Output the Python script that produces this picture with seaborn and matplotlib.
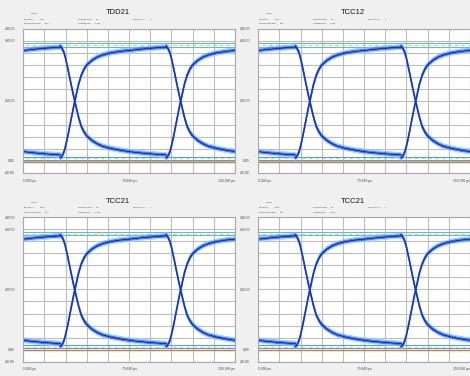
import matplotlib
matplotlib.use("Agg")
import numpy as np
import pandas as pd
import matplotlib.pyplot as plt
import seaborn as sns

# eye diagrams (4 S-parameter channels)

titles = ["TDD21", "TCC12", "TCC21", "TCC21"]

ui_ps = 79.64          # one unit interval
t0_ps = 27.6           # start of the first edge in the window
span_ps = 159.28

# time after edge start (ps) and the mean rising / falling trace (mV)
edge_t = [0, 1, 2, 3, 4, 6, 8, 10, 12, 14, 16, 18, 20, 24, 28, 32, 38, 45, 52, 60, 70, 80]
rise_v = [10, 13, 20, 30, 45, 85, 130, 175, 215, 255, 284, 304, 318, 334, 345, 352, 359, 364, 367, 371, 375, 378]
fall_v = [382, 378, 370, 360, 345, 305, 262, 220, 182, 145, 115, 97, 84, 68, 57, 49, 42, 36, 31, 27, 23, 20]
spread_mv = [-8, 8, -4, 4, 0]   # trace to trace spread round the mean

high_levels = [391, 380]
low_levels = [14, 4]
high_dash = 385
low_dash = 10
base_level = -2

x_ticks = [0, 79.64, 159.28]
x_labels = ["0.000 ps", "79.640 ps", "159.280 ps"]
y_ticks = [-40, 0, 200, 400, 440]
y_labels = ["-40.00", "0.00", "200.00", "400.00", "440.00"]

# instrument header: (key, value, key x, value x) in panel pixels
header_rows = [
    [("Bit Pattern:", "PRBS", 24, 40), ("Data Rate (Gb/s):", "12.5", 78, 96),
     ("Rise Time (ps):", "0", 133, 150)],
    [("Pattern Length (bits):", "2^9-1", 24, 45), ("Amplitude (mV):", "0, 200", 78, 95)],
]

spread_color = {-8: "#8fd6ee", 8: "#6cc8e8", -4: "#3f86e4", 4: "#3f86e4", 0: "#1b2dd4"}
spread_lw = {-8: 0.5, 8: 0.5, -4: 0.7, 4: 0.7, 0: 1.1}


def build_edges():
    rows = []
    for k in (-1, 0, 1):
        start = t0_ps + k * ui_ps
        for name, vals in (("rise", rise_v), ("fall", fall_v)):
            for s in spread_mv:
                for t, v in zip(edge_t, vals):
                    rows.append({"t": start + t, "v": v + s, "spread": s,
                                 "trace": f"{name}{k}{s}"})
    return pd.DataFrame(rows)


def build_flat(levels):
    rows = []
    for k in (-1, 0, 1):
        start = t0_ps + k * ui_ps
        for lev in levels:
            for t in (edge_t[0], edge_t[-1]):
                rows.append({"t": start + t, "v": lev, "trace": f"{k}_{lev}"})
    return pd.DataFrame(rows)


edges = build_edges()

sns.set_style("white")
plt.rcParams["font.family"] = ["Liberation Sans", "DejaVu Sans"]

fig = plt.figure(figsize=(4.7, 3.76), dpi=100, facecolor="#f0f0f0")

W, H = 470.0, 376.0
panel_xy = [(0, 0), (235, 0), (0, 188.7), (235, 188.7)]
hdr = dict(fontsize=1.35, ha="left", va="center", color="#333333")

for title, (ox, oy) in zip(titles, panel_xy):
    left = (ox + 23.3) / W
    bottom = 1 - (oy + 173) / H
    ax = fig.add_axes([left, bottom, 211.7 / W, 144.5 / H])
    ax.set_facecolor("white")

    # flat (repeated bit) bands
    hi = build_flat(high_levels)
    lo = build_flat(low_levels)
    sns.lineplot(data=hi, x="t", y="v", units="trace", estimator=None, sort=False,
                 color="#5fb8e6", lw=0.8, ax=ax)
    sns.lineplot(data=lo, x="t", y="v", units="trace", estimator=None, sort=False,
                 color="#4f9ee6", lw=0.8, ax=ax)
    sns.lineplot(data=build_flat([high_dash]), x="t", y="v", units="trace", estimator=None,
                 sort=False, color="#d8de3c", lw=0.8, ls=(0, (3, 3)), ax=ax)
    sns.lineplot(data=build_flat([low_dash]), x="t", y="v", units="trace", estimator=None,
                 sort=False, color="#c9e04a", lw=0.7, ls=(0, (3, 4)), ax=ax)
    sns.lineplot(data=build_flat([base_level]), x="t", y="v", units="trace", estimator=None,
                 sort=False, color="#e8702a", lw=0.9, ax=ax)

    # edges, outer traces first
    for s in spread_mv:
        sub = edges[edges["spread"] == s]
        sns.lineplot(data=sub, x="t", y="v", units="trace", estimator=None, sort=False,
                     color=spread_color[s], lw=spread_lw[s], ax=ax)

    ax.set_xlim(0, span_ps)
    ax.set_ylim(-40, 440)
    ax.set_xticks(np.linspace(0, span_ps, 11), minor=True)
    ax.set_yticks(np.arange(-40, 441, 40), minor=True)
    ax.set_xticks(x_ticks)
    ax.set_xticklabels(x_labels)
    ax.set_yticks(y_ticks)
    ax.set_yticklabels(y_labels)
    for lab, ha in zip(ax.get_xticklabels(), ["left", "center", "right"]):
        lab.set_ha(ha)
    ax.tick_params(which="both", length=0, labelsize=2.4, labelcolor="#444444", pad=4)
    ax.tick_params(axis="y", pad=6)
    ax.grid(True, which="both", color="#bdbdbd", lw=0.8)
    ax.set_axisbelow(True)
    ax.set_xlabel("")
    ax.set_ylabel("")
    for sp in ax.spines.values():
        sp.set_color("#a8a8a8")
        sp.set_linewidth(0.8)

    # title and instrument header
    fig.text((ox + 117.5) / W, 1 - (oy + 13) / H, title, fontsize=5.5,
             ha="center", va="center", color="#111111")
    fig.text((ox + 31) / W, 1 - (oy + 14) / H, "40 mV/", **hdr)
    for i, row in enumerate(header_rows):
        y = 1 - (oy + 19 + 4.5 * i) / H
        for k, v, kx, vx in row:
            fig.text((ox + kx) / W, y, k, **hdr)
            fig.text((ox + vx) / W, y, v, **hdr)

fig.savefig("out.png", dpi=100, facecolor=fig.get_facecolor())
